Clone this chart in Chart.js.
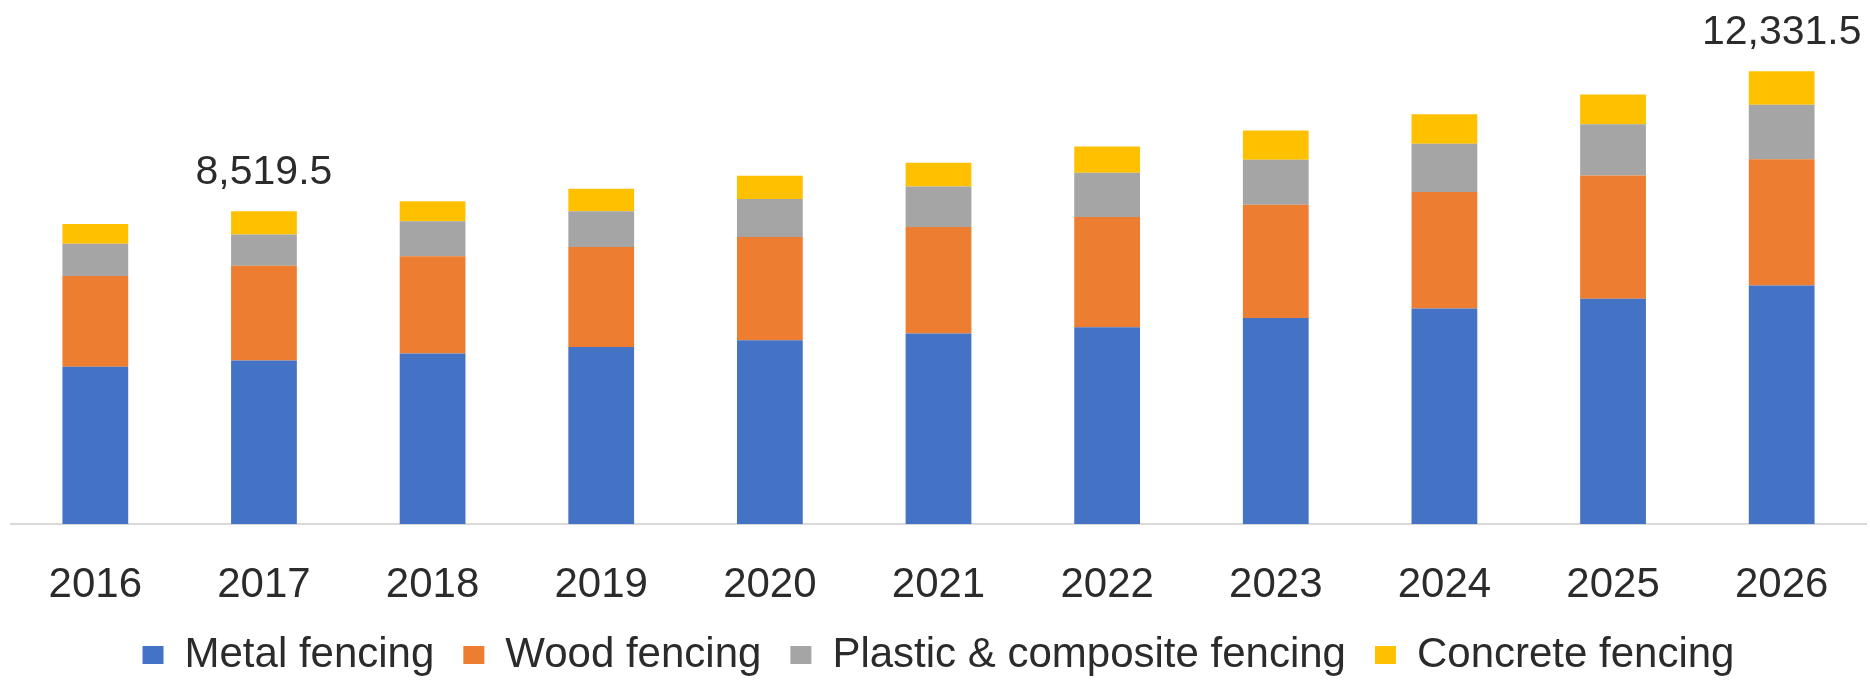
<!DOCTYPE html>
<html>
<head>
<meta charset="utf-8">
<title>Fencing market by material</title>
<script src="https://cdn.jsdelivr.net/npm/chart.js@4.4.1/dist/chart.umd.min.js"></script>
<style>
  html, body { margin: 0; padding: 0; background: #fff; }
  #wrap { width: 1870px; height: 686px; }
</style>
</head>
<body>
<div id="wrap"><canvas id="fenceChart"></canvas></div>
<script>
var years = ['2016', '2017', '2018', '2019', '2020', '2021', '2022', '2023', '2024', '2025', '2026'];

var metal    = [4279, 4452, 4643, 4823, 5005, 5187, 5358, 5611, 5867, 6134, 6493];
var wood     = [2475, 2583, 2647, 2720, 2810, 2900, 3000, 3084, 3172, 3356, 3438];
var plastic  = [881, 846, 952, 971, 1034, 1107, 1208, 1224, 1316, 1393, 1488];
var concrete = [536, 638.5, 544, 617, 636, 645, 715, 797, 805, 811, 912.5];

// years that get their stacked total written above the bar
var totalYears = ['2017', '2026'];

var textColor = '#2b2b2b';

// writes the stack total above the chosen bars
var totalsPlugin = {
    id: 'stackTotals',
    afterDatasetsDraw: function(chart) {
        var ctx = chart.ctx;
        var xs = chart.scales.x;
        var ys = chart.scales.y;
        ctx.save();
        ctx.font = '41px "Liberation Sans", Arial, sans-serif';
        ctx.fillStyle = textColor;
        ctx.textAlign = 'center';
        ctx.textBaseline = 'alphabetic';
        totalYears.forEach(function(yr) {
            var i = years.indexOf(yr);
            var total = 0;
            chart.data.datasets.forEach(function(ds) { total += ds.data[i]; });
            var txt = total.toLocaleString('en-US', {minimumFractionDigits: 1, maximumFractionDigits: 1});
            ctx.fillText(txt, xs.getPixelForValue(i), ys.getPixelForValue(total) - 27);
        });
        ctx.restore();
    }
};

var chartdata = {
    labels: years,
    datasets: [
        { label: 'Metal fencing', backgroundColor: '#4472C4', data: metal },
        { label: 'Wood fencing', backgroundColor: '#ED7D31', data: wood },
        { label: 'Plastic & composite fencing', backgroundColor: '#A5A5A5', data: plastic },
        { label: 'Concrete fencing', backgroundColor: '#FFC000', data: concrete }
    ]
};

var ctx = document.getElementById('fenceChart');

var fenceChart = new Chart(ctx, {
    type: 'bar',
    data: chartdata,
    options: {
        responsive: true,
        maintainAspectRatio: false,
        animation: false,
        layout: { padding: { left: 11, right: 4, top: 0, bottom: 0 } },
        datasets: {
            bar: { barPercentage: 0.39, categoryPercentage: 1, borderWidth: 0 }
        },
        scales: {
            x: {
                stacked: true,
                grid: { display: false, drawTicks: false },
                border: { display: true, color: '#D9D9D9', width: 2 },
                ticks: {
                    padding: 36,
                    color: textColor,
                    font: { family: '"Liberation Sans", Arial, sans-serif', size: 42 }
                },
                // fixed axis band so the plot bottom sits where the legend allows
                afterFit: function(scale) { scale.height = 81; }
            },
            y: {
                stacked: true,
                display: false,
                min: 0,
                max: 14270
            }
        },
        plugins: {
            legend: {
                position: 'bottom',
                labels: {
                    boxWidth: 21,
                    boxHeight: 18,
                    padding: 29,
                    color: textColor,
                    font: { family: '"Liberation Sans", Arial, sans-serif', size: 42 }
                }
            },
            tooltip: { enabled: false }
        }
    },
    plugins: [totalsPlugin]
});
</script>
</body>
</html>
